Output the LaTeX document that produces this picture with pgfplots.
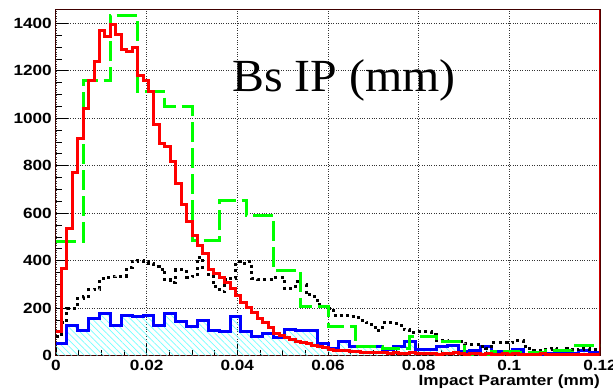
\documentclass[border=0pt]{standalone}
\usepackage{pgfplots}
\pgfplotsset{compat=1.18}
\usepackage{pgfplotstable}
\usepackage{fontspec}
\usetikzlibrary{patterns.meta}
\setmainfont{Liberation Sans}
\newfontfamily\tickfont{Liberation Sans}[FakeStretch=1.16]
\newfontfamily\titlefont{Liberation Serif}[FakeStretch=1.04]

% red: 100 bins of 0.0012 (last value repeated to close the step)
\pgfplotstableread[row sep=\\]{v\\
101\\368\\537\\772\\916\\1042\\1161\\1238\\1369\\1344\\
1393\\1351\\1288\\1281\\1300\\1182\\1161\\1112\\972\\895\\
880\\817\\726\\635\\565\\508\\466\\430\\361\\345\\
330\\310\\285\\255\\225\\205\\180\\155\\138\\118\\
95\\87\\75\\67\\60\\55\\50\\45\\38\\34\\
28\\24\\24\\22\\18\\17\\15\\14\\12\\13\\
12\\10\\14\\11\\9\\12\\10\\8\\11\\9\\
7\\10\\8\\12\\9\\7\\10\\8\\6\\9\\
7\\5\\8\\6\\9\\5\\7\\6\\4\\8\\
6\\5\\7\\4\\6\\5\\3\\6\\4\\5\\
5\\}\redtab

% black dotted: 100 bins of 0.0012
\pgfplotstableread[row sep=\\]{v\\
80\\140\\200\\200\\242\\250\\277\\280\\326\\330\\
333\\335\\335\\370\\396\\399\\395\\389\\375\\365\\
319\\308\\361\\361\\330\\335\\414\\370\\333\\290\\
270\\320\\326\\396\\390\\396\\326\\323\\322\\322\\
330\\330\\284\\284\\312\\300\\256\\249\\214\\206\\
200\\171\\168\\168\\164\\160\\150\\140\\120\\108\\
139\\139\\135\\129\\110\\97\\101\\101\\101\\90\\
63\\63\\60\\59\\59\\50\\49\\49\\40\\31\\
56\\56\\56\\55\\63\\63\\40\\21\\21\\21\\
25\\30\\21\\30\\28\\25\\27\\30\\27\\27\\
27\\}\blacktab

% blue: 50 bins of 0.0024
\pgfplotstableread[row sep=\\]{v\\
52\\129\\108\\157\\176\\129\\171\\164\\168\\129\\
176\\143\\125\\150\\108\\100\\164\\100\\82\\95\\
78\\112\\108\\108\\52\\31\\59\\38\\38\\38\\
27\\40\\59\\27\\27\\38\\42\\17\\24\\38\\
17\\17\\27\\6\\6\\10\\10\\10\\24\\13\\
13\\}\bluetab

% green dashed: 20 bins of 0.006
\pgfplotstableread[row sep=\\]{v\\
483\\1158\\1432\\1112\\1049\\484\\652\\592\\358\\207\\
122\\38\\30\\80\\59\\3\\17\\15\\20\\41\\
41\\}\greentab

\begin{document}
\begin{tikzpicture}
\useasboundingbox (-56bp,-36.3bp) rectangle (557bp,355.7bp);
\begin{axis}[
  at={(0,0)}, anchor=south west,
  scale only axis, width=544bp, height=345.7bp,
  xmin=0, xmax=0.12, ymin=0, ymax=1456,
  xtick={0,0.02,0.04,0.06,0.08,0.1,0.12},
  xticklabels={0,0.02,0.04,0.06,0.08,0.1,0.12},
  ytick={0,200,400,600,800,1000,1200,1400},
  yticklabels={0,200,400,600,800,1000,1200,1400},
  scaled x ticks=false, scaled y ticks=false,
  minor x tick num=3, minor y tick num=3,
  tick align=inside, tick pos=left,
  major tick length=12bp, minor tick length=6bp,
  every tick/.style={black, line width=0.8bp},
  grid=major,
  major grid style={black!80, dotted, line width=0.6bp},
  axis line style={black!75!red, line width=1bp},
  ticklabel style={font=\tickfont\bfseries\fontsize{14.8bp}{17bp}\selectfont, inner sep=0pt},
  xticklabel style={yshift=-4bp},
  yticklabel style={xshift=-4bp},
  xlabel={Impact Paramter (mm)},
  xlabel style={at={(rel axis cs:1,0)}, anchor=north east, inner sep=0pt, yshift=-19bp,
    font=\tickfont\bfseries\fontsize{14.8bp}{17bp}\selectfont},
  no markers,
]
\addplot[const plot, draw=none, pattern={Lines[angle=-45, distance=4.5bp, line width=0.7bp]}, pattern color=cyan!55]
  table[x expr=\coordindex*0.0024, y=v]{\bluetab} \closedcycle;
\addplot[const plot, blue, line width=3bp]
  table[x expr=\coordindex*0.0024, y=v]{\bluetab};
\addplot[const plot, black, line width=3bp, dash pattern=on 3bp off 3.5bp]
  table[x expr=\coordindex*0.0012, y=v]{\blacktab};
\addplot[const plot, green, line width=3bp, dash pattern=on 20bp off 6bp]
  table[x expr=\coordindex*0.006, y=v]{\greentab};
\addplot[const plot, red, line width=3bp]
  table[x expr=\coordindex*0.0012, y=v]{\redtab};
\draw[red!80!black, line width=1.2bp] (rel axis cs:1,0) -- (rel axis cs:1,1);
\node[anchor=base west, inner sep=0pt, font=\titlefont\fontsize{46bp}{50bp}\selectfont]
  at (rel axis cs:0.3235,0.7637) {Bs IP (mm)};
\end{axis}
\end{tikzpicture}
\end{document}
